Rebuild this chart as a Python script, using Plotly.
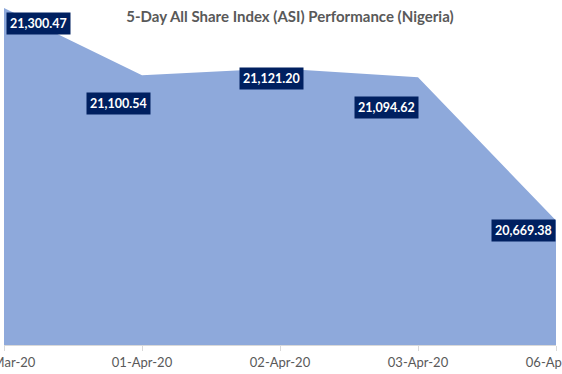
import plotly.graph_objects as go

dates = ["31-Mar-20", "01-Apr-20", "02-Apr-20", "03-Apr-20", "06-Apr-20"]
asi_values = [21300.47, 21100.54, 21121.20, 21094.62, 20669.38]
value_labels = ["21,300.47", "21,100.54", "21,121.20", "21,094.62", "20,669.38"]

# label pixel offsets (styling)
label_dx = [34, -24, -9, -32, -33]
label_dy = [-15, -28, -10, -30, -10]

fig = go.Figure()
fig.add_trace(go.Scatter(
    x=dates, y=asi_values, mode="lines", fill="tozeroy",
    line=dict(color="#8EA9DB", width=0), fillcolor="#8EA9DB",
    hoverinfo="skip", showlegend=False,
))

for d, v, t, dx, dy in zip(dates, asi_values, value_labels, label_dx, label_dy):
    fig.add_annotation(
        x=d, y=v, text="<b>" + t + "</b>", showarrow=False,
        xshift=dx, yshift=dy, bgcolor="#002060",
        font=dict(family="Lato, 'Open Sans', sans-serif", size=12.5, color="white"),
        borderpad=3,
    )

fig.update_layout(
    width=562, height=374,
    margin=dict(l=4, r=6, t=8, b=29, autoexpand=False),
    paper_bgcolor="white", plot_bgcolor="white",
    title=dict(
        text="<b>5-Day All Share Index (ASI) Performance (Nigeria)</b>",
        x=0.516, xanchor="center", y=0.955, yanchor="middle",
        font=dict(family="Lato, 'Open Sans', sans-serif", size=15, color="#595959"),
    ),
    xaxis=dict(
        type="category", range=[0, 4], showgrid=False, automargin=False,
        showline=True, linecolor="#D9D9D9", linewidth=1,
        ticks="outside", ticklen=5, tickcolor="#D9D9D9",
        tickfont=dict(family="Lato, 'Open Sans', sans-serif", size=13, color="#595959"),
        fixedrange=True,
    ),
    yaxis=dict(
        range=[20300, 21300.5], visible=False, showgrid=False, fixedrange=True,
        automargin=False,
    ),
)

fig.write_html(
    "out.html",
    config={"displayModeBar": False},
    post_script="document.body.style.margin='0';document.body.style.overflow='hidden';",
)
